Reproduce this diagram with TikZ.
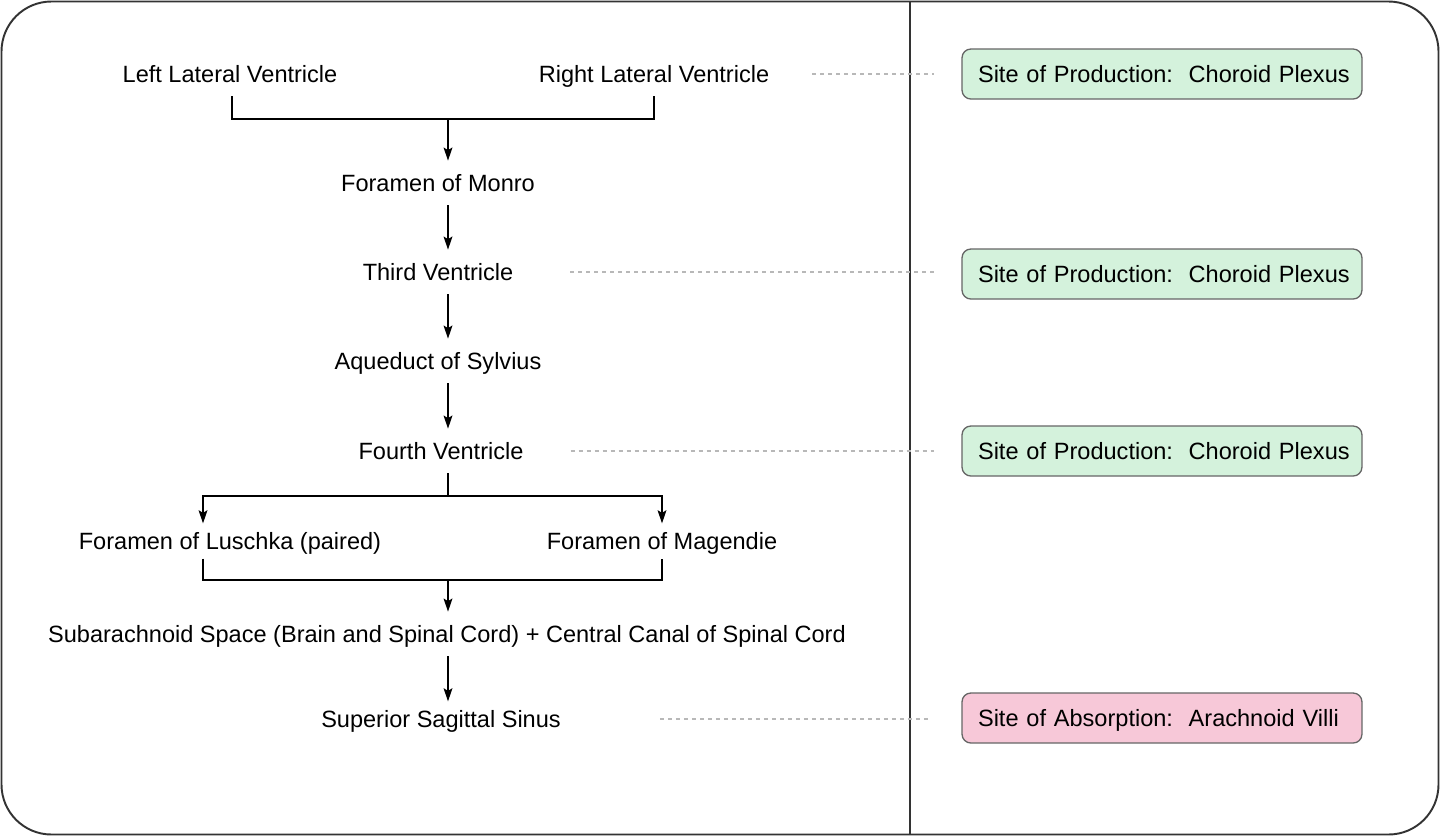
\documentclass[tikz,border=0pt]{standalone}
\usepackage{fontspec}
\setmainfont{Liberation Sans}
\usetikzlibrary{arrows.meta, calc, positioning}
\definecolor{lprod}{HTML}{D4F2DC}
\definecolor{labs}{HTML}{F7C8D8}
\definecolor{lframe}{HTML}{333333}
\definecolor{ldash}{HTML}{B8B8B8}

\begin{document}
\begin{tikzpicture}[x=0.02cm, y=-0.02cm,
  every node/.style={font=\fontsize{13.4}{16}\selectfont, text height=9.6pt, text depth=0pt, inner ysep=7.7pt},
  tight/.style={inner ysep=5pt},
  flow/.style={-{Stealth[length=7.5pt,width=5pt,inset=1.5pt]}, line width=0.85pt},
  bracket/.style={line width=0.85pt},
  dashline/.style={ldash, line width=0.6pt, dash pattern=on 0.08cm off 0.08cm},
  site/.style={draw=black!60, line width=0.75pt, rounded corners=5pt, minimum width=8cm,
    minimum height=1cm, text width=7.36cm, inner xsep=0.32cm, align=left}]
  \useasboundingbox (0,0) rectangle (1440,836);
  \draw[lframe, line width=1.1pt, rounded corners=1cm] (1.5,1.5) rectangle (1438.5,834.5);
  \draw[lframe, line width=1.1pt] (910,1.5) -- (910,834.5);

  \node (llv) at (230,74) {Left Lateral Ventricle};
  \node (rlv) at (654,74) {Right Lateral Ventricle};
  \node (mon) at (438,183) {Foramen of Monro};
  \node (third) at (438,272) {Third Ventricle};
  \node (aqu) at (438,361) {Aqueduct of Sylvius};
  \node (fourth) at (441,451) {Fourth Ventricle};
  \node[tight] (lus) at (230,541) {Foramen of Luschka (paired)};
  \node[tight] (mag) at (662,541) {Foramen of Magendie};
  \node (sub) at (447,634) {Subarachnoid Space (Brain and Spinal Cord) + Central Canal of Spinal Cord};
  \node[tight] (sss) at (441,719) {Superior Sagittal Sinus};

  \coordinate (topjoin) at (448,119);
  \coordinate (split) at (448,496);
  \coordinate (join) at (448,580);

  \draw[bracket] ([xshift=0.04cm]llv.south) |- (rlv.south |- topjoin) -- (rlv.south);
  \draw[flow] (topjoin) -- (mon.north -| topjoin);
  \foreach \a/\b in {mon/third, third/aqu, aqu/fourth} {
    \draw[flow] (\a.south -| topjoin) -- (\b.north -| topjoin);
  }
  \draw[bracket] (fourth.south -| split) -- (split);
  \draw[flow] (split) -| ([xshift=-0.54cm]lus.north);
  \draw[flow] (split) -| (mag.north);
  \draw[bracket] ([xshift=-0.54cm]lus.south) |- (mag.south |- join) -- (mag.south);
  \draw[flow] (join) -- (sub.north -| join);
  \draw[flow] (sub.south -| join) -- (sss.north -| join);

  \node[site, fill=lprod] (prod1) at (1162,74) {\mbox{Site of Production:\ \ Choroid Plexus}};
  \node[site, fill=lprod] (prod2) at (1162,274) {\mbox{Site of Production:\ \ Choroid Plexus}};
  \node[site, fill=lprod] (prod3) at (1162,451) {\mbox{Site of Production:\ \ Choroid Plexus}};
  \node[site, fill=labs] (absorb) at (1162,718) {\mbox{Site of Absorption:\ \ Arachnoid Villi}};

  \draw[dashline] ([xshift=0.74cm]rlv.east) -- ([xshift=-0.54cm]prod1.west |- rlv.east);
  \draw[dashline] ([xshift=1.02cm]third.east) -- ([xshift=-0.54cm]prod2.west |- third.east);
  \draw[dashline] ([xshift=0.82cm]fourth.east) -- ([xshift=-0.54cm]prod3.west |- fourth.east);
  \draw[dashline] ([xshift=1.86cm]sss.east) -- ([xshift=-0.64cm]absorb.west |- sss.east);
\end{tikzpicture}
\end{document}
